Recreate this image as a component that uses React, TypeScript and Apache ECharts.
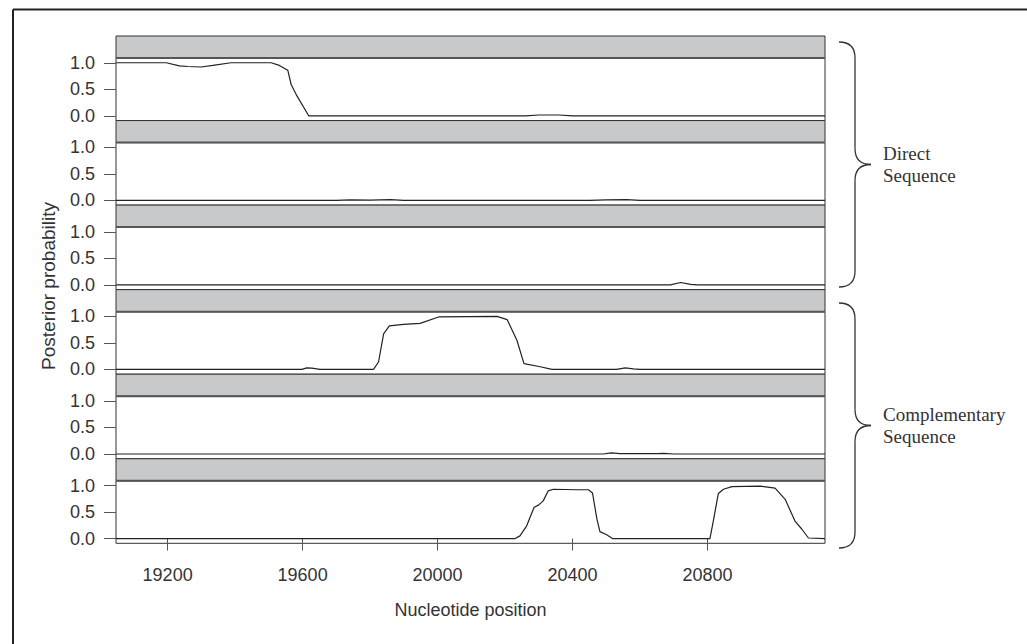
import React, { useEffect, useRef } from "react";
import * as echarts from "echarts";

// ---- data ----
const xTicks = [19200, 19600, 20000, 20400, 20800];
const yTicks = [0, 0.5, 1];
const xTitle = "Nucleotide position";
const yTitle = "Posterior probability";
const groupLabels = ["Direct\nSequence", "Complementary\nSequence"];

const panel1: [number, number][] = [
  [19047, 1.0], [19196, 1.0], [19235, 0.94], [19260, 0.93], [19299, 0.92], [19334, 0.95],
  [19388, 1.0], [19507, 1.0], [19531, 0.95], [19556, 0.86], [19566, 0.59], [19581, 0.4],
  [19618, 0.0], [20260, 0.0], [20300, 0.015], [20360, 0.015], [20400, 0.0], [21148, 0.0],
];
const panel2: [number, number][] = [
  [19047, 0], [19700, 0], [19740, 0.01], [19800, 0.005], [19860, 0.012], [19900, 0],
  [20450, 0], [20500, 0.01], [20560, 0.012], [20600, 0], [21148, 0],
];
const panel3: [number, number][] = [
  [19047, 0], [20690, 0], [20720, 0.045], [20750, 0.01], [20770, 0], [21148, 0],
];
const panel4: [number, number][] = [
  [19047, 0], [19598, 0], [19612, 0.03], [19627, 0.025], [19652, 0], [19810, 0],
  [19825, 0.14], [19840, 0.67], [19857, 0.82], [19899, 0.85], [19948, 0.87], [20003, 0.99],
  [20176, 1.0], [20206, 0.94], [20235, 0.55], [20256, 0.11], [20304, 0.05], [20339, 0],
  [20530, 0], [20556, 0.03], [20580, 0.01], [20600, 0], [21148, 0],
];
const panel5: [number, number][] = [
  [19047, 0], [20490, 0], [20515, 0.02], [20540, 0.005], [20650, 0.005], [20670, 0.01],
  [20700, 0], [21148, 0],
];
const panel6: [number, number][] = [
  [19047, 0], [20230, 0], [20244, 0.05], [20264, 0.24], [20286, 0.59], [20299, 0.63],
  [20313, 0.71], [20328, 0.9], [20343, 0.93], [20412, 0.92], [20447, 0.92], [20459, 0.86],
  [20472, 0.37], [20481, 0.13], [20501, 0.07], [20518, 0], [20807, 0], [20817, 0.33],
  [20832, 0.85], [20847, 0.93], [20872, 0.98], [20956, 0.99], [21000, 0.95], [21030, 0.74],
  [21059, 0.33], [21079, 0.18], [21099, 0.01], [21148, 0],
];
const panels = [panel1, panel2, panel3, panel4, panel5, panel6];

const X_MIN = 19047;
const X_MAX = 21148;

// ---- layout ----
const LEFT = 116;
const RIGHT = 825;
const TOP0 = 36;
const PANEL_H = 84.55;
const STRIP_H = 22;
const SANS = "'Liberation Sans', Arial, sans-serif";
const SERIF = "'Liberation Serif', 'Times New Roman', serif";

function brace(xEnd: number, xV: number, xTip: number, top: number, bottom: number, r: number) {
  const mid = (top + bottom) / 2;
  const st = { stroke: "#333", lineWidth: 1.3, fill: "none" };
  return [
    { type: "bezierCurve", shape: { x1: xEnd, y1: top, x2: xV, y2: top + r, cpx1: xV, cpy1: top }, style: st },
    { type: "line", shape: { x1: xV, y1: top + r, x2: xV, y2: mid - r }, style: st },
    { type: "bezierCurve", shape: { x1: xV, y1: mid - r, x2: xTip, y2: mid, cpx1: xV, cpy1: mid }, style: st },
    { type: "bezierCurve", shape: { x1: xTip, y1: mid, x2: xV, y2: mid + r, cpx1: xV, cpy1: mid }, style: st },
    { type: "line", shape: { x1: xV, y1: mid + r, x2: xV, y2: bottom - r }, style: st },
    { type: "bezierCurve", shape: { x1: xV, y1: bottom - r, x2: xEnd, y2: bottom, cpx1: xV, cpy1: bottom }, style: st },
  ];
}

export default function App() {
  const ref = useRef<HTMLDivElement>(null);
  useEffect(() => {
    const chart = echarts.init(ref.current!, null, { renderer: "svg" });
    const grids: any[] = [];
    const xAxes: any[] = [];
    const yAxes: any[] = [];
    const series: any[] = [];
    const graphics: any[] = [];
    const last = panels.length - 1;
    panels.forEach((data, i) => {
      const top = TOP0 + i * PANEL_H;
      grids.push({
        left: LEFT, width: RIGHT - LEFT, top: top + STRIP_H, height: PANEL_H - STRIP_H,
        show: true, borderColor: "#333", borderWidth: 1, backgroundColor: "#fff",
      });
      xAxes.push({
        type: "value", gridIndex: i, min: X_MIN, max: X_MAX, show: i === last,
        axisLine: { show: false }, splitLine: { show: false },
        axisTick: { show: true, customValues: xTicks, length: 12, lineStyle: { color: "#555", width: 1 } },
        axisLabel: {
          customValues: xTicks, fontSize: 18, color: "#333", margin: 23, fontFamily: SANS,
          formatter: (v: number) => String(v),
        },
      });
      yAxes.push({
        type: "value", gridIndex: i, min: -0.09, max: 1.09,
        axisLine: { show: false }, splitLine: { show: false },
        axisTick: { show: true, customValues: yTicks, length: 12, lineStyle: { color: "#555", width: 1 } },
        axisLabel: {
          customValues: yTicks, fontSize: 18, color: "#333", margin: 21, fontFamily: SANS,
          formatter: (v: number) => v.toFixed(1),
        },
      });
      series.push({
        type: "line", xAxisIndex: i, yAxisIndex: i, data, showSymbol: false, silent: true,
        lineStyle: { color: "#222", width: 1.2 },
      });
      graphics.push({
        type: "rect", shape: { x: LEFT, y: top, width: RIGHT - LEFT, height: STRIP_H },
        style: { fill: "#c8c9cb", stroke: "#333", lineWidth: 1 },
      });
      graphics.push({
        type: "line", shape: { x1: LEFT, y1: top + STRIP_H, x2: RIGHT, y2: top + STRIP_H },
        style: { stroke: "#555", lineWidth: 2 },
      });
    });
    // outer frame (top and left)
    graphics.push({ type: "line", shape: { x1: 13, y1: 9.5, x2: 1027, y2: 9.5 }, style: { stroke: "#222", lineWidth: 2 } });
    graphics.push({ type: "line", shape: { x1: 13, y1: 9.5, x2: 13, y2: 644 }, style: { stroke: "#222", lineWidth: 2 } });
    // axis titles
    graphics.push({
      type: "text", x: 470.5, y: 610,
      style: { text: xTitle, fontSize: 18, fontFamily: SANS, fill: "#333", align: "center", verticalAlign: "middle" },
    });
    graphics.push({
      type: "text", x: 48, y: 286, rotation: Math.PI / 2,
      style: { text: yTitle, fontSize: 19, fontFamily: SANS, fill: "#333", align: "center", verticalAlign: "middle" },
    });
    // braces
    graphics.push(...brace(839, 855, 871, 42, 287, 16));
    graphics.push(...brace(839, 855, 871, 303, 548, 16));
    graphics.push({
      type: "text", x: 883, y: 164,
      style: { text: groupLabels[0], fontSize: 19, lineHeight: 22, fontFamily: SERIF, fill: "#333", align: "left", verticalAlign: "middle" },
    });
    graphics.push({
      type: "text", x: 883, y: 425,
      style: { text: groupLabels[1], fontSize: 19, lineHeight: 22, fontFamily: SERIF, fill: "#333", align: "left", verticalAlign: "middle" },
    });

    chart.setOption({
      animation: false,
      backgroundColor: "#fff",
      grid: grids,
      xAxis: xAxes,
      yAxis: yAxes,
      series,
      graphic: graphics,
    });
    return () => chart.dispose();
  }, []);
  return <div ref={ref} style={{ position: "absolute", left: 0, top: 0, width: 1027, height: 644 }} />;
}
